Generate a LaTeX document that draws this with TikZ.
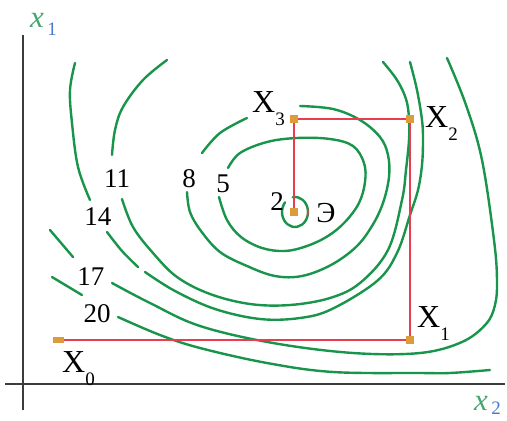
\documentclass[tikz,border=0pt]{standalone}
\usepackage{fontspec}
\setmainfont{Liberation Serif}
\definecolor{cgreen}{RGB}{25,148,75}
\definecolor{cred}{RGB}{232,60,80}
\definecolor{corange}{RGB}{222,155,60}
\definecolor{caxis}{RGB}{60,60,60}
\definecolor{lblgreen}{RGB}{70,165,110}
\definecolor{lblblue}{RGB}{70,120,210}
\begin{document}
\begin{tikzpicture}[x=1pt,y=-1pt,
  contour/.style={draw=cgreen, line width=2.4pt, line cap=round},
  redpath/.style={draw=cred, line width=1.4pt},
  pt/.style={fill=corange, minimum size=8pt, inner sep=0pt, draw=none, rectangle},
  num/.style={font=\fontsize{27}{27}\selectfont, inner sep=0pt, anchor=base},
  xl/.style={font=\fontsize{32}{32}\selectfont, inner sep=0pt, anchor=base west},
  axis/.style={draw=caxis, line width=1.8pt}
]
\useasboundingbox (0,0) rectangle (507,421);
% axes
\coordinate (vtop) at (23,35);
\coordinate (vbot) at (23,410);
\coordinate (hl) at (5,384);
\coordinate (hr) at (505,384);
\draw[axis] (vtop) -- (vbot);
\draw[axis] (hl) -- (hr);
\node[font=\fontsize{31}{31}\selectfont\itshape, text=lblgreen, anchor=base, inner sep=0pt] (ax1) at (37,27) {x};
\node[font=\fontsize{19}{19}\selectfont, text=lblblue, anchor=base, inner sep=0pt] (ax1s) at (52,35) {1};
\node[font=\fontsize{31}{31}\selectfont\itshape, text=lblgreen, anchor=base, inner sep=0pt] (ax2) at (481,410) {x};
\node[font=\fontsize{19}{19}\selectfont, text=lblblue, anchor=base, inner sep=0pt] (ax2s) at (496,414) {2};

% contour 2 (small circle)
\draw[contour] (295,212) ++(260:13 and 15) arc[start angle=260, end angle=580, x radius=13, y radius=15];
\draw[cred, line width=1.4pt] (295,212) ++(-18:13 and 15) arc[start angle=-18, end angle=18, x radius=13, y radius=15];

% contour 5
\draw[contour] plot[smooth, tension=0.6] coordinates {(228,168) (240,153) (267,142) (297,138) (330,139) (353,146) (364,163) (365,182) (359,203) (345,222) (328,236) (307,246) (285,251) (262,248) (241,237) (227,220) (219,197)};

% contour 8
\draw[contour] plot[smooth, tension=0.6] coordinates {(202,153) (220,133) (247,118)};
\draw[contour] plot[smooth, tension=0.6] coordinates {(300,106) (333,109) (360,120) (380,137) (388,155) (389,177) (383,203) (372,226) (356,247) (331,265) (302,276) (275,276) (247,266) (220,252) (201,231) (190,212) (187,192)};

% contour 11
\draw[contour] plot[smooth, tension=0.6] coordinates {(167,60) (143,80) (123,107) (115,130) (112,155)};
\draw[contour] plot[smooth, tension=0.6] coordinates {(122,199) (133,227) (153,253) (177,277) (210,294) (250,304) (290,305) (330,298) (360,283) (388,250) (402,200) (406,170) (409,140) (409,118) (406,99) (397,80) (383,62)};

% contour 14
\draw[contour] plot[smooth, tension=0.6] coordinates {(75,63) (70,90) (72,123) (78,167) (90,200)};
\draw[contour] plot[smooth, tension=0.6] coordinates {(107,232) (122,251) (138,267)};
\draw[contour] plot[smooth, tension=0.6] coordinates {(145,272) (175,291) (215,309) (260,319) (300,318) (332,309) (377,281) (397,253) (410,215) (418,190) (422,165) (423,140) (422,120) (417,90) (410,62)};

% contour 17
\draw[contour] plot[smooth, tension=0.6] coordinates {(50,230) (73,257)};
\draw[contour] plot[smooth, tension=0.6] coordinates {(112,283) (150,303) (200,326) (273,343) (353,353) (420,353) (462,342) (486,324) (495,305) (497,280) (494,240) (482,160) (466,105) (447,58)};

% contour 20
\draw[contour] plot[smooth, tension=0.6] coordinates {(52,277) (82,295)};
\draw[contour] plot[smooth, tension=0.6] coordinates {(118,317) (160,335) (200,348) (267,363) (333,372) (420,373) (450,373) (490,370)};

% descent path
\node[pt, minimum width=11pt, minimum height=6pt] (X0) at (58,340) {};
\node[pt] (X1) at (410,340) {};
\node[pt] (X2) at (410,119) {};
\node[pt] (X3) at (294,119) {};
\node[pt] (E) at (294,212) {};
\draw[redpath] (X0) -- (X1);
\draw[redpath] (X1) -- (X2);
\draw[redpath] (X2) -- (X3);
\draw[redpath] (X3) -- (E);

% labels
\node[xl] (lX0) at (62,372) {X\raisebox{-13pt}{\fontsize{19}{19}\selectfont 0}};
\node[xl] (lX1) at (417,327) {X\raisebox{-13pt}{\fontsize{19}{19}\selectfont 1}};
\node[xl] (lX2) at (425,127) {X\raisebox{-13pt}{\fontsize{19}{19}\selectfont 2}};
\node[xl] (lX3) at (252,112) {X\raisebox{-13pt}{\fontsize{19}{19}\selectfont 3}};
\node[num] (l11) at (117,187) {11};
\node[num] (l8) at (189,187) {8};
\node[num] (l5) at (223,192) {5};
\node[num] (l14) at (98,225) {14};
\node[num] (l17) at (91,285) {17};
\node[num] (l20) at (97,322) {20};
\node[num] (l2) at (277,210) {2};
\node[num, font=\fontsize{29}{29}\selectfont] (lE) at (326,222) {Э};
\end{tikzpicture}
\end{document}
